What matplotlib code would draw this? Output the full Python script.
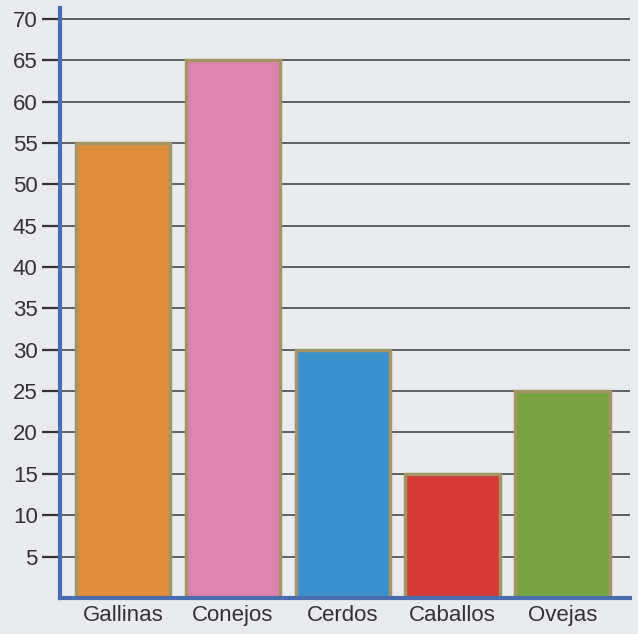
import numpy as np
import matplotlib
matplotlib.use('Agg')
import matplotlib.pyplot as plt

matplotlib.rcParams['font.family'] = ['Liberation Sans', 'DejaVu Sans']

animales = ['Gallinas', 'Conejos', 'Cerdos', 'Caballos', 'Ovejas']
cantidad = [55, 65, 30, 15, 25]
colores = ['#e08d3c', '#df82ad', '#3b8fcd', '#d43b36', '#79a340']
yticks = list(range(5, 75, 5))

fondo = '#e9ebef'
fig = plt.figure(figsize=(6.38, 6.34), dpi=100, facecolor=fondo)
ax = fig.add_axes([0.094, 0.057, 0.893, 0.93])
ax.set_facecolor(fondo)

x = np.arange(len(animales))
ax.bar(x, cantidad, width=0.86, color=colores, edgecolor='#a39566',
       linewidth=2.5, zorder=3)

# lineas horizontales detras de las barras
for t in yticks:
    ax.axhline(t, color='#3a3a3a', linewidth=1.1, zorder=1)

ax.set_xlim(-0.573, 4.61)
ax.set_ylim(0, 71.3)
ax.set_yticks(yticks)
ax.set_xticks(x)
ax.set_xticklabels(animales)

for s in ['top', 'right']:
    ax.spines[s].set_visible(False)
ax.spines['left'].set_color('#4a6db0')
ax.spines['bottom'].set_color('#4a6db0')
ax.spines['left'].set_linewidth(3)
ax.spines['bottom'].set_linewidth(3)
ax.spines['left'].set_zorder(4)
ax.spines['bottom'].set_zorder(4)

ax.tick_params(axis='y', length=13, width=1.6, color='#333333', pad=3,
               labelsize=16, labelcolor='#333333')
ax.tick_params(axis='x', length=0, pad=5, labelsize=16, labelcolor='#333333')

fig.savefig('out.png', dpi=100, facecolor=fondo)
